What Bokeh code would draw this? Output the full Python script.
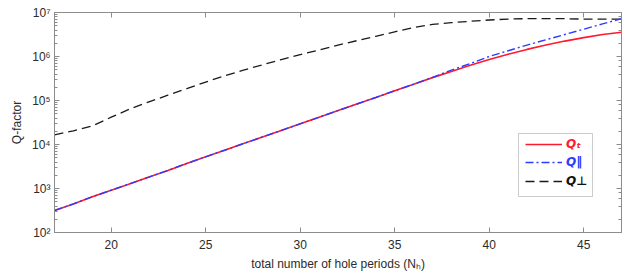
from bokeh.plotting import figure
from bokeh.models import (LinearAxis, LogAxis, Legend, LegendItem, BoxAnnotation,
                          FixedTicker, Range1d)
from bokeh.embed import file_html
from bokeh.resources import INLINE

# ---- data ----
N_h = [17, 18, 19, 20, 21, 22, 23, 24, 25, 26, 27, 28, 29, 30, 31, 32,
       33, 34, 35, 36, 37, 38, 39, 40, 41, 42, 43, 44, 45, 46, 47]

Q_T = [316, 447, 646, 912, 1290, 1820, 2570, 3720, 5250, 7410, 10500,
       14800, 20900, 29500, 41700, 58900, 83200, 117000, 166000, 234000,
       331000, 457000, 631000, 851000, 1120000, 1450000, 1820000, 2240000,
       2690000, 3160000, 3550000]

Q_par = [316, 447, 646, 912, 1290, 1820, 2570, 3720, 5250, 7410, 10500,
         14800, 20900, 29500, 41700, 58900, 83200, 117000, 166000, 234000,
         335000, 490000, 692000, 1000000, 1350000, 1820000, 2400000, 3160000,
         4170000, 5500000, 7240000]

Q_perp = [16600, 20400, 26300, 41700, 64600, 93300, 132000, 186000, 263000,
          363000, 490000, 646000, 851000, 1100000, 1410000, 1820000, 2290000,
          2880000, 3630000, 4570000, 5370000, 5890000, 6310000, 6760000,
          7080000, 7240000, 7240000, 7240000, 7080000, 7080000, 7080000]

x_ticks = [20, 25, 30, 35, 40, 45]
y_tick_labels = {100: "10²", 1000: "10³", 10000: "10⁴", 100000: "10⁵",
                 1000000: "10⁶", 10000000: "10⁷"}
legend_labels = ["Qₜ", "Q‖", "Q⊥"]

FONT = "Liberation Sans"
AXIS_GREY = "#8c8c8c"
TEXT = "#2b2b2b"

p = figure(width=623, height=275, output_backend="svg", toolbar_location=None,
           y_axis_type="log", x_range=Range1d(17, 47), y_range=Range1d(100, 1e7),
           min_border_left=54, min_border_right=2, min_border_top=12,
           min_border_bottom=43)
p.grid.visible = False
p.outline_line_color = None
p.background_fill_color = "white"

r_perp = p.line(N_h, Q_perp, line_color="#1a1a1a", line_width=1.3, line_dash="9 5")
r_T = p.line(N_h, Q_T, line_color="#ff1a2e", line_width=1.6)
r_par = p.line(N_h, Q_par, line_color="#2b3cff", line_width=1.4, line_dash="8 3 2 3")

# axes
xa = p.xaxis[0]
xa.ticker = FixedTicker(ticks=x_ticks)
ya = p.yaxis[0]

for ax in (xa, ya):
    ax.axis_line_color = AXIS_GREY
    ax.major_tick_line_color = AXIS_GREY
    ax.minor_tick_line_color = AXIS_GREY
    ax.major_tick_in = 5
    ax.major_tick_out = 0
    ax.major_label_text_font = FONT
    ax.major_label_text_font_size = "12px"
    ax.major_label_text_color = TEXT
    ax.axis_label_text_font = FONT
    ax.axis_label_text_font_size = "12px"
    ax.axis_label_text_color = TEXT
    ax.axis_label_text_font_style = "normal"

xa.minor_tick_in = 0
xa.minor_tick_out = 0
xa.major_label_standoff = 7
xa.axis_label = "total number of hole periods (Nₕ)"
xa.axis_label_standoff = 5

ya.minor_tick_in = 3
ya.minor_tick_out = 0
ya.major_label_overrides = y_tick_labels
ya.major_label_standoff = 4
ya.axis_label = "Q-factor"
ya.axis_label_standoff = 5

top = LinearAxis(ticker=FixedTicker(ticks=x_ticks))
right = LogAxis()
for ax in (top, right):
    ax.axis_line_color = AXIS_GREY
    ax.major_tick_line_color = AXIS_GREY
    ax.minor_tick_line_color = AXIS_GREY
    ax.major_tick_in = 5
    ax.major_tick_out = 0
    ax.major_label_text_font_size = "0px"
    ax.major_label_text_alpha = 0
    ax.major_label_standoff = 0
top.minor_tick_in = 0
top.minor_tick_out = 0
right.minor_tick_in = 3
right.minor_tick_out = 0
p.add_layout(top, "above")
p.add_layout(right, "right")

# legend box
box = BoxAnnotation(left=464, right=538, bottom=36, top=99,
                    left_units="screen", right_units="screen",
                    bottom_units="screen", top_units="screen",
                    fill_color="white", fill_alpha=1.0,
                    line_color="#555555", line_width=1)
p.add_layout(box)

colors = ["#ff1a2e", "#2b3cff", "#111111"]
renderers = [r_T, r_par, r_perp]
ys = [80, 62, 43]
for lab, col, rr, yy in zip(legend_labels, colors, renderers, ys):
    lg = Legend(items=[LegendItem(label=lab, renderers=[rr])],
                location=(471, yy), orientation="vertical",
                border_line_alpha=0, background_fill_alpha=0,
                padding=0, margin=0, glyph_width=37, glyph_height=16,
                label_height=16, label_standoff=4,
                label_text_font="DejaVu Sans", label_text_font_size="12px",
                label_text_font_style="bold italic", label_text_color=col)
    p.add_layout(lg, "center")

open("out.html", "w").write(file_html(p, INLINE))
